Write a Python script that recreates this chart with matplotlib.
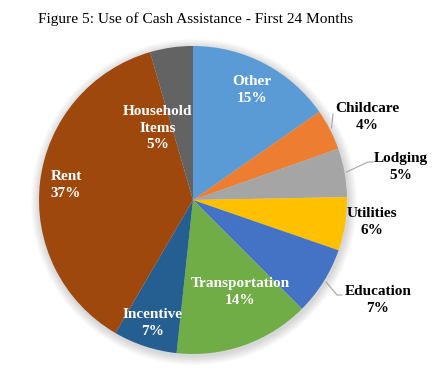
import matplotlib
matplotlib.use("Agg")
import matplotlib.pyplot as plt
from matplotlib.patches import Circle

# shares; the labels carry the rounded values shown
categories = ["Other", "Childcare", "Lodging", "Utilities", "Education",
              "Transportation", "Incentive", "Rent", "Household\nItems"]
shares = [15.3, 4.3, 5.1, 5.6, 7.2, 14.2, 6.7, 37.1, 4.5]
pct_labels = ["15%", "4%", "5%", "6%", "7%", "14%", "7%", "37%", "5%"]

COLORS = ["#5B9BD5", "#ED7D31", "#A5A5A5", "#FFC000", "#4472C4",
          "#70AD47", "#255E91", "#9E480E", "#636363"]

W, H = 445, 370
CX, CY, R = 193, 200, 154   # pixel coords (y down)

# label centre (pixel coords), text colour
LABEL_POS = [
    (252, 90, "white"),
    (367, 117, "black"),
    (401, 167, "black"),
    (372, 222, "black"),
    (378, 300, "black"),
    (240, 292, "white"),
    (153, 323, "white"),
    (66, 185, "white"),
    (158, 128, "white"),
]
# leader lines in pixel coords
LEADERS = [
    [(331.5, 128), (333, 114)],
    [(346.5, 172), (368, 162), (373, 162)],
    [(326, 282), (337, 295), (342, 295)],
]


def py(y):
    return H - y


fig = plt.figure(figsize=(W / 100, H / 100), dpi=100)
ax = fig.add_axes([0, 0, 1, 1])

# soft shadow round the pie
for i in range(10):
    ax.add_patch(Circle((CX + 1, py(CY) - 2), R + 1 + i * 0.9,
                        color="black", alpha=0.016, lw=0, zorder=0))

ax.pie(shares, colors=COLORS, startangle=90, counterclock=False,
       center=(CX, py(CY)), radius=R, frame=True,
       wedgeprops=dict(linewidth=0))
ax.set_xlim(0, W)
ax.set_ylim(0, H)
ax.set_aspect("equal")
ax.set_axis_off()

for name, pct, (x, y, c) in zip(categories, pct_labels, LABEL_POS):
    ax.text(x, py(y), f"{name}\n{pct}", ha="center", va="center",
            family="Liberation Serif", fontweight="bold", fontsize=11,
            color=c, linespacing=1.35, zorder=5)

for pts in LEADERS:
    ax.plot([p[0] for p in pts], [py(p[1]) for p in pts],
            color="#a6a6a6", lw=0.8, zorder=4)

ax.text(38, py(19), "Figure 5: Use of Cash Assistance - First 24 Months",
        ha="left", va="center", family="Liberation Serif", fontsize=11.1)

fig.savefig("out.png", dpi=100)
